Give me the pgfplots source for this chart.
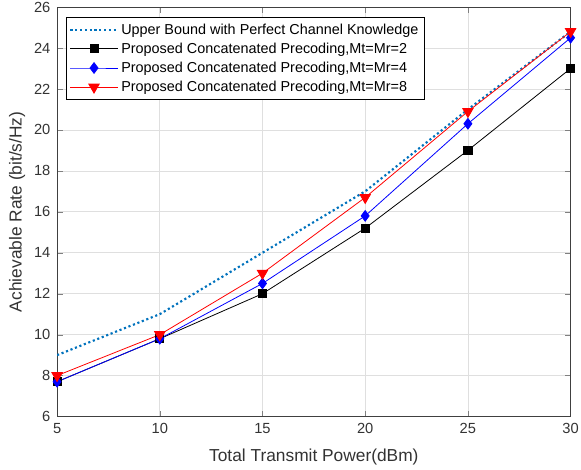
\documentclass[border=0pt]{standalone}
\usepackage{pgfplots}
\pgfplotsset{compat=1.18}
\usepackage{fontspec}
\setmainfont{Liberation Sans}
\definecolor{ub}{RGB}{0,114,189}
\begin{document}
\begin{tikzpicture}
\begin{axis}[
  scale only axis, width=385pt, height=307pt,
  xmin=5, xmax=30, ymin=6, ymax=26,
  xtick={5,10,15,20,25,30}, ytick={6,8,...,26},
  grid=major, major grid style={gray!25, line width=0.5pt},
  tick align=inside, tick pos=both,
  axis line style={black!75},
  /pgf/number format/assume math mode=true,
  ticklabel style={font=\fontsize{11}{12}\selectfont, text=black!80},
  yticklabel style={xshift=-1.5pt},
  xticklabel style={yshift=-1.5pt},
  xlabel={Total Transmit Power(dBm)},
  ylabel={Achievable Rate (bit/s/Hz)},
  label style={font=\fontsize{13}{15}\selectfont, text=black!80},
  xlabel style={at={(axis description cs:0.5,0)}, anchor=center, yshift=-30.5pt},
  ylabel style={at={(axis description cs:-0.078,0.5)}, anchor=center},
  legend style={font=\fontsize{10.8}{12}\selectfont, draw=black, fill=white,
    row sep=1pt, inner sep=2.5pt, at={(0.017,0.975)}, anchor=north west},
  legend cell align=left,
  legend image code/.code={\draw[mark repeat=2,mark phase=2,#1] plot coordinates {(0cm,0cm) (0.62cm,0cm) (1.24cm,0cm)};},
]
\addplot[ub, dotted, line width=1.6pt] coordinates {(5,9) (10,11) (15,14) (20,17) (25,21) (30,24.8)};
\addlegendentry{Upper Bound with Perfect Channel Knowledge}
\addplot[black, mark=square*, mark size=3pt, line width=0.6pt] coordinates {(5,7.7) (10,9.8) (15,12) (20,15.2) (25,19) (30,23)};
\addlegendentry{Proposed Concatenated Precoding,Mt=Mr=2}
\addplot[blue, mark=diamond*, mark size=4pt, line width=0.6pt] coordinates {(5,7.7) (10,9.8) (15,12.5) (20,15.8) (25,20.3) (30,24.5)};
\addlegendentry{Proposed Concatenated Precoding,Mt=Mr=4}
\addplot[red, mark=triangle*, mark options={rotate=180}, mark size=4.5pt, line width=0.6pt] coordinates {(5,8) (10,10) (15,13) (20,16.7) (25,20.9) (30,24.8)};
\addlegendentry{Proposed Concatenated Precoding,Mt=Mr=8}
\end{axis}
\pgfresetboundingbox
\path ([shift={(-42.8pt,-39.8pt)}]current axis.south west) rectangle ([shift={(7.8pt,5.3pt)}]current axis.north east);
\end{tikzpicture}
\end{document}
